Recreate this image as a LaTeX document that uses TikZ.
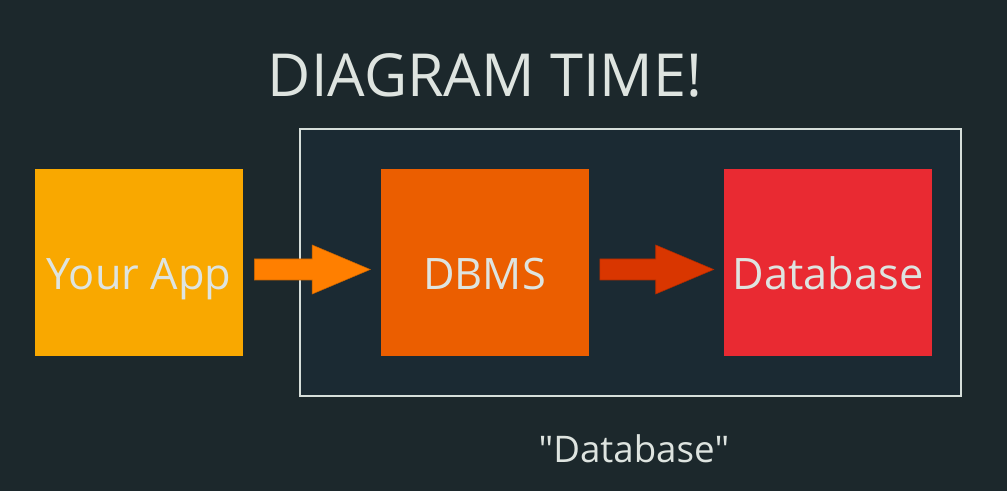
\documentclass[tikz,border=0pt]{standalone}
\usepackage{fontspec}
\setmainfont{Open Sans}
\usetikzlibrary{positioning,calc}
\definecolor{bgcol}{RGB}{28,40,44}
\definecolor{panelcol}{RGB}{27,42,51}
\definecolor{linecol}{RGB}{214,222,218}
\definecolor{txtcol}{RGB}{222,228,224}
\definecolor{appcol}{RGB}{249,168,0}
\definecolor{dbmscol}{RGB}{235,94,0}
\definecolor{dbcol}{RGB}{233,42,50}
\definecolor{arrowone}{RGB}{255,127,0}
\definecolor{arrowtwo}{RGB}{217,54,0}
\tikzset{
  block/.style={minimum width=208*0.75pt, minimum height=187*0.75pt, inner sep=0pt, text=txtcol, text height=40pt, text depth=0pt, font=\fontsize{32.5}{38}\selectfont},
  label text/.style={text=txtcol, inner sep=0pt, anchor=base},
}
\newcommand{\fatarrow}[3]{%
\path [fill=#3, draw=#3!80!black, line width=0.4pt] ($(#1.east)+(11,17.5)$) -- ($(#2.west)+(-68,17.5)$) -- ($(#2.west)+(-68,31.5)$) -- ($(#2.west)+(-10,7)$) -- ($(#2.west)+(-68,-17.5)$) -- ($(#2.west)+(-68,-3.5)$) -- ($(#1.east)+(11,-3.5)$) -- cycle ;}
\begin{document}
\begin{tikzpicture}[x=0.75pt,y=0.75pt,yscale=-1,xscale=1]
\fill [bgcol] (0,0) rectangle (1007,491) ;
\useasboundingbox (0,0) rectangle (1007,491) ;
% title
\node [label text, font=\fontsize{44.5}{52}\selectfont] (title) at (485,97) {DIAGRAM TIME!};
% database system panel
\draw [fill=panelcol, draw=linecol, line width=1.5pt] (300,129) rectangle (961,396) ;
% blocks
\node [block, fill=appcol] (app) at (139,262.5) {Your App};
\node [block, fill=dbmscol] (dbms) at (484.5,262.5) {DBMS};
\node [block, fill=dbcol] (db) at (828,262.5) {Database};
% arrows
\fatarrow{app}{dbms}{arrowone}
\fatarrow{dbms}{db}{arrowtwo}
% caption
\node [label text, font=\fontsize{27.5}{34}\selectfont] (caption) at (634,463) {\textquotedbl Database\textquotedbl};
\end{tikzpicture}
\end{document}
